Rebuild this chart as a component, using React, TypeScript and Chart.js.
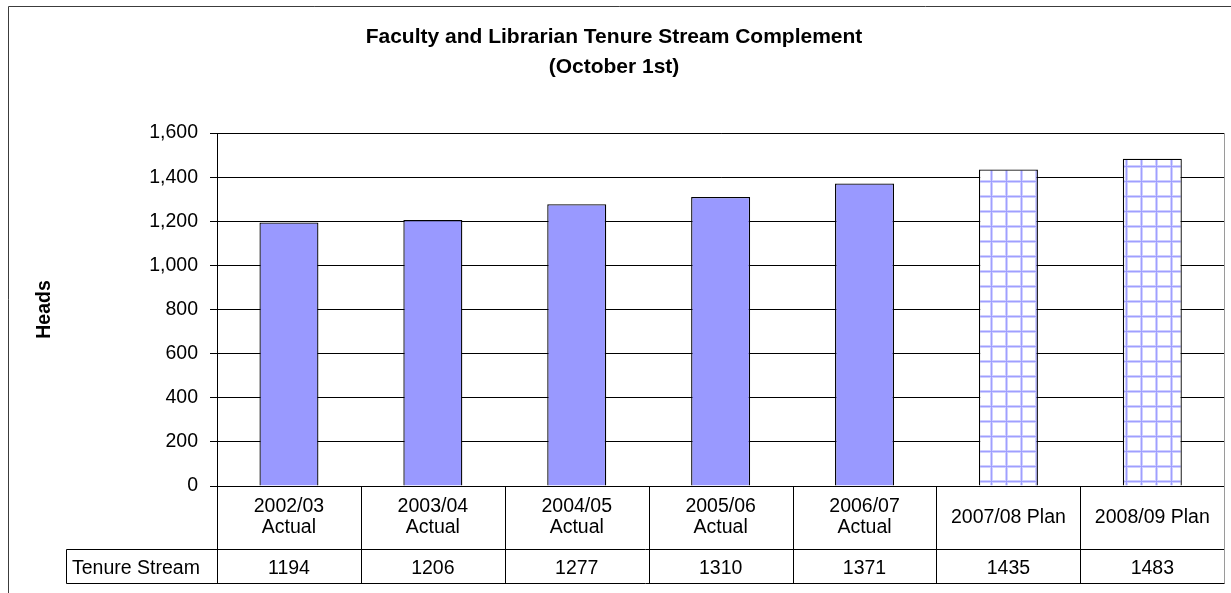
import React, { useEffect, useRef } from "react";
import { Chart, registerables } from "chart.js";

Chart.register(...registerables);

const titleLines = ["Faculty and Librarian Tenure Stream Complement", "(October 1st)"];
const categories: string[][] = [
  ["2002/03", "Actual"],
  ["2003/04", "Actual"],
  ["2004/05", "Actual"],
  ["2005/06", "Actual"],
  ["2006/07", "Actual"],
  ["2007/08 Plan"],
  ["2008/09 Plan"],
];
const seriesName = "Tenure Stream";
const tenureStream = [1194, 1206, 1277, 1310, 1371, 1435, 1483];
const isPlan = [false, false, false, false, false, true, true];
const yTicks = [0, 200, 400, 600, 800, 1000, 1200, 1400, 1600];
const yTitle = "Heads";

const FONT = "'Liberation Sans', Arial, sans-serif";
const BAR = "#9999FF";

function makePattern(): CanvasPattern | string {
  const c = document.createElement("canvas");
  c.width = 15;
  c.height = 15;
  const g = c.getContext("2d");
  if (!g) return "#fff";
  g.fillStyle = "#ffffff";
  g.fillRect(0, 0, 15, 15);
  g.fillStyle = "#d0d0ff";
  g.fillRect(0, 0, 3, 15);
  g.fillRect(0, 0, 15, 3);
  g.fillStyle = "#9f9fff";
  g.fillRect(1, 0, 1, 15);
  g.fillRect(0, 1, 15, 1);
  const p = g.createPattern(c, "repeat");
  return p || "#fff";
}

const framePlugin = {
  id: "frame",
  beforeDraw(chart: any) {
    const ctx = chart.ctx;
    ctx.save();
    ctx.fillStyle = "#fff";
    ctx.fillRect(0, 0, chart.width, chart.height);
    ctx.restore();
  },
  afterDraw(chart: any) {
    const ctx = chart.ctx;
    const area = chart.chartArea;
    ctx.save();
    ctx.strokeStyle = "#3c3c3c";
    ctx.lineWidth = 1;
    ctx.beginPath();
    ctx.moveTo(8.5, chart.height);
    ctx.lineTo(8.5, 6.5);
    ctx.lineTo(chart.width, 6.5);
    ctx.stroke();

    // data table
    const xs = chart.scales.x;
    const n = categories.length;
    const cw = (area.right - area.left) / n;
    const top = Math.round(area.bottom);
    const headerBottom = 549.5;
    const rowBottom = 583.5;
    const tableLeft = 66.5;
    ctx.strokeStyle = "#000";
    ctx.beginPath();
    for (let i = 0; i <= n; i++) {
      const x = Math.round(area.left + i * cw) + 0.5;
      ctx.moveTo(x, top);
      ctx.lineTo(x, rowBottom);
    }
    ctx.moveTo(tableLeft, headerBottom);
    ctx.lineTo(Math.round(area.right) + 0.5, headerBottom);
    ctx.moveTo(tableLeft, rowBottom);
    ctx.lineTo(Math.round(area.right) + 0.5, rowBottom);
    ctx.moveTo(tableLeft, headerBottom);
    ctx.lineTo(tableLeft, rowBottom);
    ctx.stroke();

    // plot right edge
    ctx.strokeStyle = "#9a9a9a";
    ctx.beginPath();
    ctx.moveTo(Math.round(area.right) + 0.5, Math.round(area.top));
    ctx.lineTo(Math.round(area.right) + 0.5, rowBottom);
    ctx.stroke();

    ctx.fillStyle = "#000";
    ctx.font = `19.5px ${FONT}`;
    ctx.textBaseline = "middle";
    ctx.textAlign = "left";
    const rowMid = (headerBottom + rowBottom) / 2 + 2.5;
    ctx.fillText(seriesName, 72, rowMid);
    ctx.textAlign = "center";
    tenureStream.forEach((v, i) => {
      ctx.fillText(String(v), xs.getPixelForValue(i), rowMid);
    });
    ctx.restore();
  },
};

export default function App() {
  const ref = useRef<HTMLCanvasElement | null>(null);
  useEffect(() => {
    if (!ref.current) return;
    const pattern = makePattern();
    const chart = new Chart(ref.current, {
      type: "bar",
      data: {
        labels: categories as any,
        datasets: [
          {
            label: seriesName,
            data: tenureStream,
            backgroundColor: isPlan.map((p) => (p ? pattern : BAR)) as any,
            borderColor: "#000",
            borderWidth: 1.3,
            borderSkipped: "bottom",
            categoryPercentage: 1,
            barPercentage: 0.41,
          },
        ],
      },
      options: {
        responsive: false,
        animation: false,
        devicePixelRatio: 1,
        layout: { padding: { left: 0, right: 3, top: 22, bottom: 0 } },
        plugins: {
          legend: { display: false },
          tooltip: { enabled: false },
          title: {
            display: true,
            text: titleLines,
            color: "#000",
            font: { family: FONT, size: 21, weight: "bold", lineHeight: 30 / 21 },
            padding: { top: 0, bottom: 51 },
          },
        },
        scales: {
          x: {
            type: "category",
            grid: { display: false, drawTicks: false },
            border: { display: true, color: "#000", width: 1 },
            ticks: {
              color: "#000",
              font: { family: FONT, size: 19.5, lineHeight: 21 / 19.5 },
              crossAlign: "center",
              padding: 21,
              maxRotation: 0,
              autoSkip: false,
            },
            afterFit(scale: any) {
              scale.height = 107;
            },
          },
          y: {
            min: 0,
            max: 1600,
            afterBuildTicks(scale: any) {
              scale.ticks = yTicks.map((v) => ({ value: v }));
            },
            grid: { color: "#000", lineWidth: 1, tickLength: 7, drawTicks: true },
            border: { display: true, color: "#000", width: 1 },
            ticks: {
              color: "#000",
              font: { family: FONT, size: 19.5 },
              padding: 12,
              callback: (v: any) => Number(v).toLocaleString("en-US"),
            },
            title: {
              display: true,
              text: yTitle,
              color: "#000",
              font: { family: FONT, size: 19.5, weight: "bold", lineHeight: 1.2 },
              padding: { top: 33, bottom: 0 },
            },
            afterFit(scale: any) {
              scale.width = 217;
            },
          },
        },
      },
      plugins: [framePlugin],
    });
    return () => chart.destroy();
  }, []);
  return (
    <div style={{ position: "fixed", left: 0, top: 0, width: 1231, height: 593, background: "#fff" }}>
      <canvas ref={ref} width={1231} height={593} style={{ display: "block" }} />
    </div>
  );
}
